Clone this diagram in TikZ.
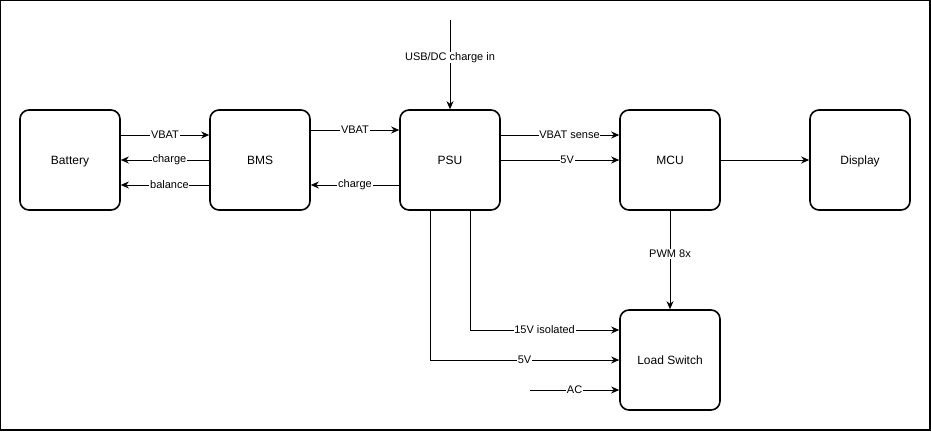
\documentclass[tikz,border=0pt]{standalone}
\usepackage{fontspec}
\setmainfont{Liberation Sans}
\usetikzlibrary{arrows.meta}
\begin{document}
\begin{tikzpicture}[x=1pt,y=-1pt,
  box/.style={draw, line width=1.6pt, rounded corners=9pt, minimum width=100pt, minimum height=100pt, inner sep=0pt, text height=8.6pt, text depth=0pt, font=\fontsize{12}{14}\selectfont},
  conn/.style={line width=0.9pt, -{Stealth[length=8pt,width=7pt,inset=2.5pt]}},
  lbl/.style={fill=white, inner sep=0.8pt, font=\fontsize{11}{13}\selectfont}]
\useasboundingbox (0,0) rectangle (931,431);
\draw[line width=2pt] (0,0) rectangle (930,430);
\node[box] (bat) at (70,160) {Battery};
\node[box] (bms) at (260,160) {BMS};
\node[box] (psu) at (450,160) {PSU};
\node[box] (mcu) at (670,160) {MCU};
\node[box] (dsp) at (860,160) {Display};
\node[box] (ls) at (670,360) {Load Switch};
\coordinate (usb) at (450,20);
\coordinate (ac) at (530,390);
\draw[conn] ([yshift=25pt]bat.east) -- node[lbl]{VBAT} ([yshift=25pt]bms.west);
\draw[conn] (bms.west) -- node[lbl,pos=0.45]{charge} (bat.east);
\draw[conn] ([yshift=-25pt]bms.west) -- node[lbl,pos=0.45]{balance} ([yshift=-25pt]bat.east);
\draw[conn] ([yshift=30pt]bms.east) -- node[lbl]{VBAT} ([yshift=30pt]psu.west);
\draw[conn] ([yshift=-25pt]psu.west) -- node[lbl]{charge} ([yshift=-25pt]bms.east);
\draw[conn] (usb) -- node[lbl,pos=0.42]{USB/DC charge in} (psu.north);
\draw[conn] ([yshift=25pt]psu.east) -- node[lbl,pos=0.58]{VBAT sense} ([yshift=25pt]mcu.west);
\draw[conn] (psu.east) -- node[lbl,pos=0.56]{5V} (mcu.west);
\draw[conn] (mcu.east) -- (dsp.west);
\draw[conn] (mcu.south) -- node[lbl,pos=0.44]{PWM 8x} (ls.north);
\draw[conn] ([xshift=20pt]psu.south) |- node[lbl,pos=0.75]{15V isolated} ([yshift=30pt]ls.west);
\draw[conn] ([xshift=-20pt]psu.south) |- node[lbl,pos=0.75]{5V} (ls.west);
\draw[conn] (ac) -- node[lbl]{AC} ([yshift=-30pt]ls.west);
\end{tikzpicture}
\end{document}
